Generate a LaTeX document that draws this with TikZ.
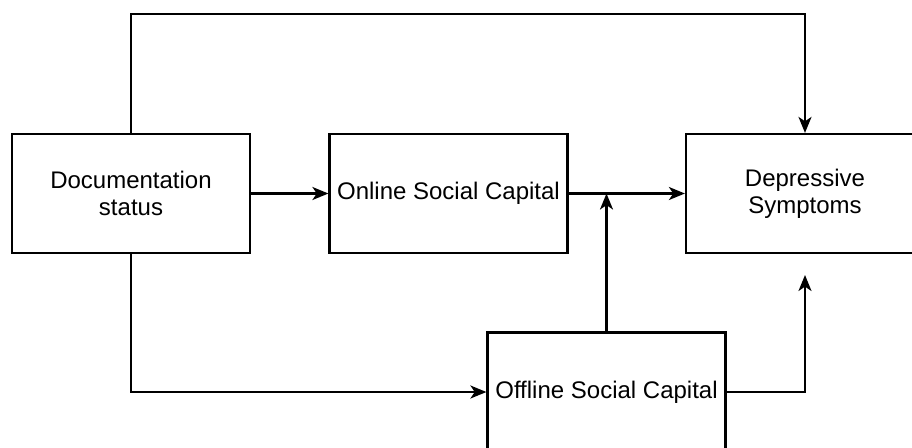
\documentclass[tikz,border=0pt]{standalone}
\usepackage{fontspec}
\setmainfont{Liberation Sans}
\usetikzlibrary{arrows.meta}

\tikzset{
  varbox/.style={draw, line width=1.1pt, align=center, minimum width=119pt, minimum height=59.5pt,
    inner sep=0pt, font=\fontsize{12}{13.5}\selectfont},
  link/.style={->, line width=1.1pt}
}

\begin{document}
\begin{tikzpicture}[x=0.5pt, y=-0.5pt, >={Stealth[length=8pt, width=6.5pt, inset=2.2pt]}]

% Frame of the picture
\clip (0,0) rectangle (912,447);

% Draw the boxes
\node[varbox] (doc)     at (131,193.5)   {Documentation\\status};
\node[varbox] (online)  at (448.5,193.5) {Online Social Capital};
\node[varbox] (dep)     at (805,193.5)   {Depressive\\Symptoms};
\node[varbox] (offline) at (606.5,392)   {Offline Social Capital};

% free ends of the links
\coordinate (join) at (offline.north |- online.east);
\coordinate (depin) at (805,275);

% draw the links:
\draw[link] (doc) -- (online);
\draw[link] (online) -- (dep);
\draw[link] (offline.north) -- (join);
\draw[link] (doc.north) -- (doc.north |- 0,14) -| (dep.north);
\draw[link] (doc.south) |- (offline.west);
\draw[link] (offline.east) -| (depin);
\end{tikzpicture}
\end{document}
